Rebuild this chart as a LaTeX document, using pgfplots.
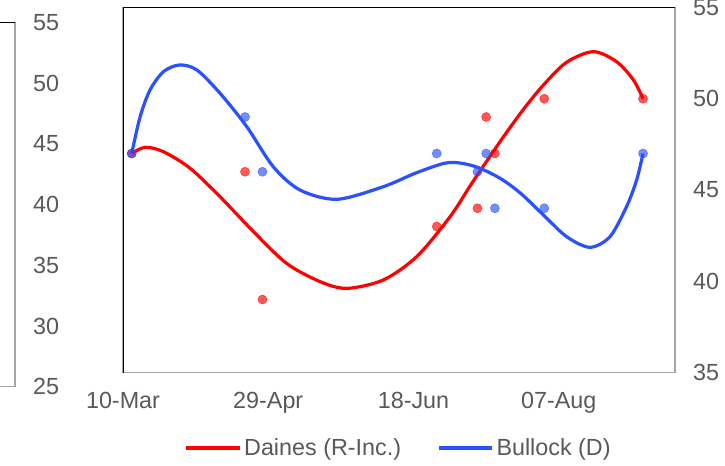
\documentclass[border=0pt]{standalone}
\usepackage{pgfplots}
\pgfplotsset{compat=1.18}
\usepackage{fontspec}
\setmainfont{Liberation Sans}
\definecolor{tickgray}{HTML}{595959}
\definecolor{framegray}{HTML}{A6A6A6}
\definecolor{lred}{HTML}{FF0000}
\definecolor{lblue}{HTML}{2A50FF}
\pgfplotstableread{
x y
3 47
42 46
48 39
108 43
122 44
125 49
128 47
145 50
179 50
}\redpts
\pgfplotstableread{
x y
3 47
42 49
48 46
108 47
122 46
125 47
128 44
145 44
179 47
}\bluepts
\pgfplotstableread{
x y
3.0 47.0
7.6 47.34
13.9 47.10
23.1 46.19
33.4 44.63
44.9 42.72
56.3 40.98
67.8 39.98
77.0 39.61
89.6 40.07
101.1 41.35
112.6 43.54
120.0 45.35
129.8 47.65
137.5 49.35
144.7 50.75
152.7 52.00
161.9 52.58
169.9 52.03
175.7 51.03
179.0 50.0
}\redcurve
\pgfplotstableread{
x y
3.0 47.0
5.9 49.02
9.3 50.48
13.9 51.48
19.4 51.85
25.4 51.58
33.4 50.30
42.6 48.47
51.7 46.28
60.9 45.0
73.6 44.49
89.6 45.18
101.1 45.95
112.0 46.50
121.0 46.30
129.8 45.64
137.0 44.80
144.7 43.63
152.7 42.44
160.7 41.86
167.6 42.44
173.3 44.08
176.8 45.55
179.0 47.0
}\bluecurve
\begin{document}
\begin{tikzpicture}
\clip (0,0) rectangle (543.75pt,348.75pt);
\pgfplotsset{
  every tick label/.append style={font=\fontsize{17.5}{21}\selectfont, text=tickgray},
  /pgf/number format/assume math mode=true,
}
% partial left box
\begin{axis}[
  scale only axis, width=100pt, height=273pt,
  at={(11.25pt,58.725pt)}, anchor=south east,
  xmin=0, xmax=1, ymin=25, ymax=55,
  xtick=\empty, ytick={25,30,...,55},
  yticklabel pos=right,
  major tick length=0pt,
  yticklabel style={xshift=10pt},
  axis line style={draw=framegray, line width=0.9pt},
]
\draw[black, line width=1pt] (rel axis cs:0,1) -- (rel axis cs:1,1);
\end{axis}
% main axis
\begin{axis}[
  scale only axis, width=414pt, height=273.75pt,
  at={(92.25pt,69.375pt)}, anchor=south west,
  xmin=0, xmax=190, ymin=35, ymax=55,
  xtick={0,50,100,150},
  xticklabels={10-Mar,29-Apr,18-Jun,07-Aug},
  ytick={35,40,...,55},
  yticklabel pos=right,
  major tick length=0pt,
  yticklabel style={xshift=10pt},
  xticklabel style={yshift=-11pt},
  axis line style={draw=framegray, line width=0.9pt},
  legend columns=2,
  legend style={draw=none, at={(0.5,-0.207)}, anchor=center,
    font=\fontsize{17.5}{21}\selectfont, text=tickgray,
    /tikz/every even column/.append style={column sep=25pt}},
  legend image code/.code={\draw[#1, line width=2.6pt] (0pt,0pt) -- (40pt,0pt);},
]
\addplot[lred, line width=2.4pt, smooth, no markers] table {\redcurve};
\addlegendentry{Daines (R-Inc.)}
\addplot[lblue, line width=2.4pt, smooth, no markers] table {\bluecurve};
\addlegendentry{Bullock (D)}
\addplot[color=lred, only marks, mark=*, mark size=3.4pt, mark options={draw=none, fill=lred, opacity=0.65}, forget plot] table {\redpts};
\addplot[color=lblue, only marks, mark=*, mark size=3.4pt, mark options={draw=none, fill=lblue, opacity=0.65}, forget plot] table {\bluepts};
\draw[black, line width=1.3pt] (rel axis cs:0,0) -- (rel axis cs:0,1) -- (rel axis cs:1,1);
\end{axis}
\end{tikzpicture}
\end{document}
